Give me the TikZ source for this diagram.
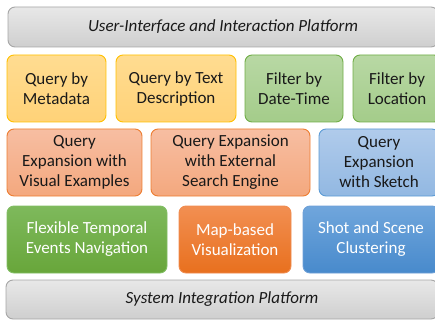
\documentclass[tikz,border=0pt]{standalone}
\usepackage{fontspec}
\setmainfont{Carlito}
\usepackage{tikz}
\usetikzlibrary{calc}

\definecolor{barline}{HTML}{A6A6A6}
\definecolor{yelline}{HTML}{FFC000}
\definecolor{grnline}{HTML}{70AD47}
\definecolor{orgline}{HTML}{ED7D31}
\definecolor{bluline}{HTML}{5B9BD5}

\tikzset{
	box/.style={draw, rounded corners=7pt, line width=0.9pt, align=center, inner sep=0pt, outer sep=0pt,
		font=\fontsize{17}{20}\selectfont, text=black!90},
	bar/.style={box, draw=barline, top color=gray!18, bottom color=gray!38, font=\fontsize{17}{20}\selectfont\itshape},
	yelbox/.style={box, draw=yelline, top color={rgb,255:red,255;green,220;blue,145}, bottom color={rgb,255:red,255;green,210;blue,120}},
	grnbox/.style={box, draw=grnline, top color={rgb,255:red,184;green,216;blue,164}, bottom color={rgb,255:red,164;green,204;blue,138}},
	salbox/.style={box, draw=orgline, top color={rgb,255:red,247;green,190;blue,162}, bottom color={rgb,255:red,244;green,168;blue,126}},
	lblbox/.style={box, draw=bluline, top color={rgb,255:red,176;green,203;blue,235}, bottom color={rgb,255:red,146;green,184;blue,226}},
	dgrnbox/.style={box, draw={rgb,255:red,130;green,190;blue,100}, text=white, top color={rgb,255:red,126;green,185;blue,92}, bottom color={rgb,255:red,104;green,166;blue,58}},
	orgbox/.style={box, draw={rgb,255:red,240;green,140;blue,80}, text=white, top color={rgb,255:red,242;green,143;blue,82}, bottom color={rgb,255:red,232;green,112;blue,30}},
	blubox/.style={box, draw={rgb,255:red,110;green,160;blue,215}, text=white, top color={rgb,255:red,112;green,166;blue,220}, bottom color={rgb,255:red,72;green,138;blue,204}},
}

\begin{document}
\begin{tikzpicture}[x=1pt, y=-1pt]
	\useasboundingbox (0,0) rectangle (435,320);
	\clip (0,0) rectangle (435,320);
	
	% platforms
	\node[bar, minimum width=430, minimum height=40] (ui) at (223,27) {User-Interface and Interaction Platform};
	\node[bar, minimum width=432, minimum height=39] (sys) at (222,299.5) {System Integration Platform};
	
	% first row
	\node[yelbox, minimum width=99, minimum height=67] (meta) at (56.5,88.5) {Query by\\Metadata};
	\node[yelbox, minimum width=120, minimum height=67] (text) at (176,88.5) {Query by Text\\Description};
	\node[grnbox, minimum width=98, minimum height=67] (date) at (294,88.5) {Filter by\\Date-Time};
	\node[grnbox, minimum width=88, minimum height=67] (loc) at (397,88.5) {Filter by\\Location};
	
	% second row
	\node[salbox, minimum width=135, minimum height=67] (visual) at (74.5,162.5) {Query\\Expansion with\\Visual Examples};
	\node[salbox, minimum width=159, minimum height=67] (engine) at (230.5,162.5) {Query Expansion\\with External\\Search Engine};
	\node[lblbox, minimum width=120, minimum height=67] (sketch) at (379,162.5) {Query\\Expansion\\with Sketch};
	
	% third row
	\node[dgrnbox, minimum width=160, minimum height=67] (events) at (87,239.5) {Flexible Temporal\\Events Navigation};
	\node[orgbox, minimum width=112, minimum height=67] (map) at (235,239.5) {Map-based\\Visualization};
	\node[blubox, minimum width=136, minimum height=67] (shot) at (371,239.5) {Shot and Scene\\Clustering};
\end{tikzpicture}
\end{document}
